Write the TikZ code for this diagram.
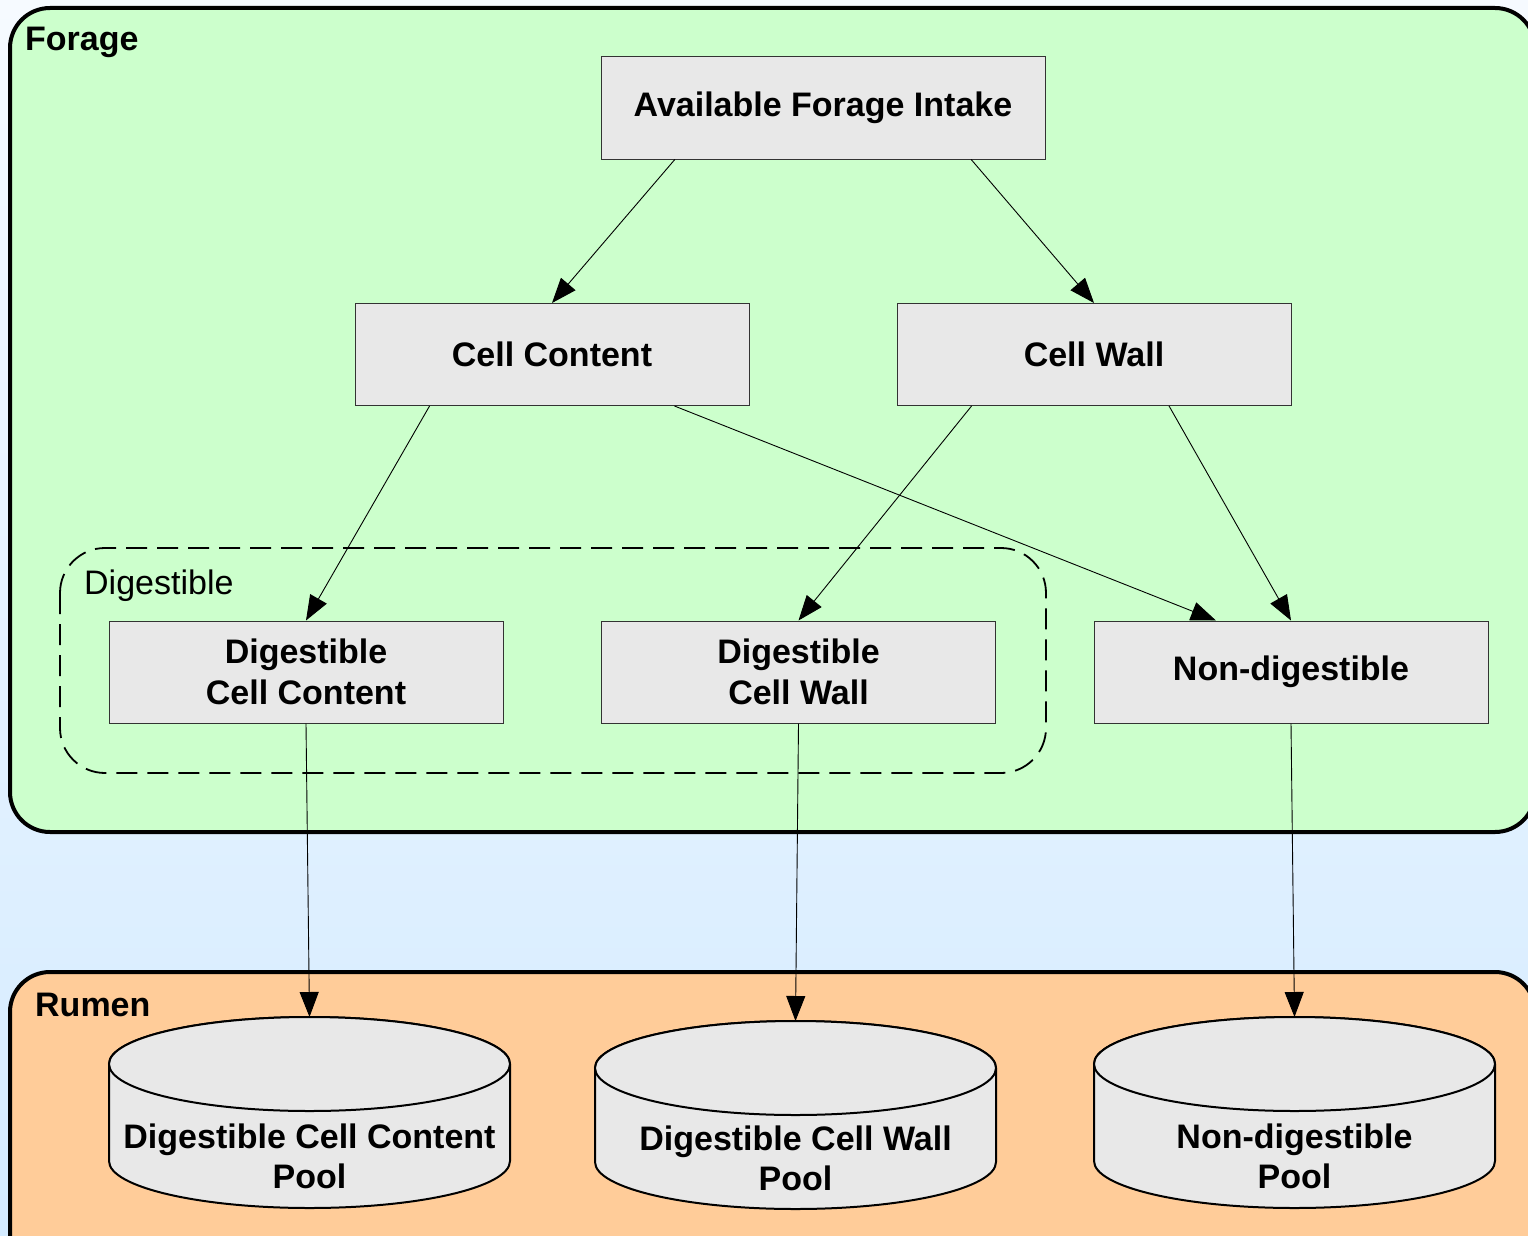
\documentclass[tikz,border=0pt]{standalone}
\usepackage{fontspec}
\setmainfont{Liberation Sans}
\usetikzlibrary{arrows.meta,calc}
\definecolor{foragegreen}{RGB}{204,255,204}
\definecolor{rumenorange}{RGB}{255,204,153}
\definecolor{boxgray}{RGB}{232,232,232}
\definecolor{bgtop}{RGB}{246,250,255}
\definecolor{bgbot}{RGB}{212,235,255}
\tikzset{
  procbox/.style={draw=black!80, line width=1pt, fill=boxgray, minimum width=394pt, minimum height=102pt, inner sep=0pt, align=center, font=\fontsize{34}{41}\selectfont\bfseries},
  region/.style={draw=black, line width=4pt, rounded corners=40pt},
  regionlabel/.style={anchor=base west, inner sep=0pt, font=\fontsize{34}{40}\selectfont\bfseries},
  arr/.style={draw=black, line width=0.9pt, -{Triangle[length=25pt,width=19pt]}},
  cylstyle/.style={draw=black, line width=2pt, fill=boxgray},
  pooltext/.style={align=center, inner sep=0pt, font=\fontsize{34}{40}\selectfont\bfseries}
}
\newcommand\poolcyl[6]{%
  % #1 name, #2 cx, #3 top y, #4 bottom y, #5 text y, #6 text
  \filldraw[cylstyle] ({#2-200.5},{-(#3+47)}) -- ({#2-200.5},{-(#4-47)})
    arc[start angle=180,end angle=360,x radius=200.5pt,y radius=47pt]
    -- ({#2+200.5},{-(#3+47)})
    arc[start angle=0,end angle=180,x radius=200.5pt,y radius=47pt] -- cycle;
  \draw[cylstyle] (#2,{-(#3+47)}) ellipse[x radius=200.5pt,y radius=47pt];
  \coordinate (#1top) at (#2,{-#3});
  \node[pooltext] (#1) at (#2,{-#5}) {#6};
}
\begin{document}
\begin{tikzpicture}[x=1pt,y=1pt]
\useasboundingbox (0,0) rectangle (1528,-1236);
\begin{scope}
\clip (0,0) rectangle (1528,-1236);
\shade[top color=bgtop, bottom color=bgbot] (0,0) rectangle (1528,-1236);
% regions
\draw[region, fill=foragegreen] (10,-8) rectangle (1535,-832);
\draw[region, fill=rumenorange] (10,-972) rectangle (1535,-1280);
\end{scope}
\node[regionlabel] (foragelbl) at (25,-51) {Forage};
\node[regionlabel] (rumenlbl) at (35,-1016) {Rumen};
% digestible group
\draw[black, line width=1.8pt, dash pattern=on 21pt off 10pt, rounded corners=45pt] (60,-548) rectangle (1046,-773);
\node[anchor=base west, inner sep=0pt, font=\fontsize{34}{40}\selectfont] (diglbl) at (84,-594) {Digestible};
% boxes
\node[procbox, minimum width=444pt] (afi) at (823,-108) {Available Forage Intake};
\node[procbox] (cc) at (552,-354.5) {Cell Content};
\node[procbox] (cw) at (1094,-354.5) {Cell Wall};
\node[procbox] (dcc) at (306,-672) {Digestible\\Cell Content};
\node[procbox] (dcw) at (798.5,-672) {Digestible\\Cell Wall};
\node[procbox] (nd) at (1291,-672) {Non-digestible};
% pools
\poolcyl{p1}{309.5}{1017}{1208}{1156}{Digestible Cell Content\\Pool}
\poolcyl{p2}{795.5}{1021}{1209}{1158}{Digestible Cell Wall\\Pool}
\poolcyl{p3}{1294.5}{1017}{1208}{1156}{Non-digestible\\Pool}
% connectors
\draw[arr] ($(afi.south west)!0.167!(afi.south east)$) -- (cc.north);
\draw[arr] ($(afi.south west)!0.833!(afi.south east)$) -- (cw.north);
\draw[arr] ($(cc.south west)!0.19!(cc.south east)$) -- (dcc.north);
\draw[arr] ($(cc.south west)!0.81!(cc.south east)$) -- ($(nd.north west)!0.31!(nd.north east)$);
\draw[arr] ($(cw.south west)!0.19!(cw.south east)$) -- (dcw.north);
\draw[arr] ($(cw.south west)!0.69!(cw.south east)$) -- (nd.north);
\draw[arr] (dcc.south) -- (p1top);
\draw[arr] (dcw.south) -- (p2top);
\draw[arr] (nd.south) -- (p3top);
\end{tikzpicture}
\end{document}
